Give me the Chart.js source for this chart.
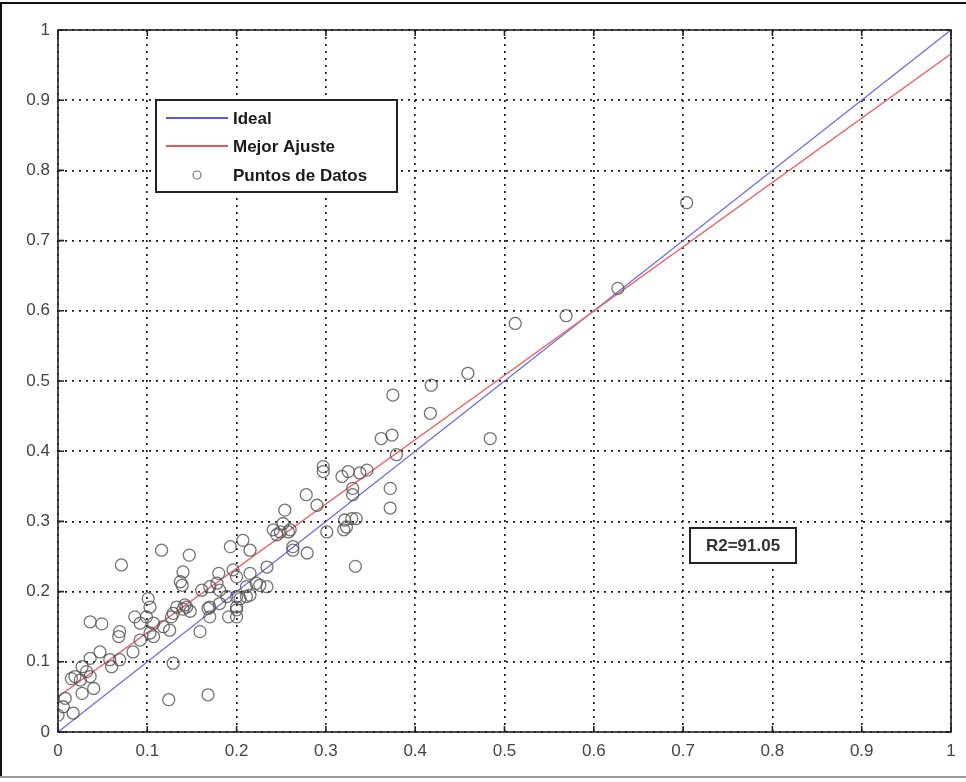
<!DOCTYPE html>
<html>
<head>
<meta charset="utf-8">
<script src="https://cdn.jsdelivr.net/npm/chart.js@4.4.1/dist/chart.umd.min.js"></script>
<style>
  html, body { margin: 0; padding: 0; background: #fff; }
  #wrap { width: 966px; height: 782px; }
</style>
</head>
<body>
<div id="wrap"><canvas id="grafico" width="966" height="782"></canvas></div>
<script>
/* ============================================================
   DATOS
============================================================ */
const TICKS_VAL = [0, 0.1, 0.2, 0.3, 0.4, 0.5, 0.6, 0.7, 0.8, 0.9, 1];
const TICKS_LBL = ['0', '0.1', '0.2', '0.3', '0.4', '0.5', '0.6', '0.7', '0.8', '0.9', '1'];

const IDEAL_X = [0, 1];
const IDEAL_Y = [0, 1];

const AJUSTE_X = [0, 1];
const AJUSTE_Y = [0.05, 0.966];

const PUNTOS_X = [
  0.704, 0.627, 0.569, 0.512, 0.459, 0.418, 0.417, 0.484, 0.375, 0.362,
  0.374, 0.379, 0.372, 0.372, 0.333, 0.297, 0.297, 0.318, 0.325, 0.338,
  0.346, 0.330, 0.330, 0.278, 0.290, 0.254, 0.321, 0.329, 0.334, 0.323,
  0.320, 0.301, 0.279, 0.263, 0.241, 0.249, 0.258, 0.245, 0.252, 0.260,
  0.207, 0.263, 0.234, 0.193, 0.215, 0.116, 0.147, 0.071, 0.140, 0.137,
  0.139, 0.180, 0.196, 0.200, 0.178, 0.181, 0.161, 0.170, 0.211, 0.222,
  0.234, 0.215, 0.226, 0.189, 0.200, 0.211, 0.204, 0.215, 0.170, 0.181,
  0.200, 0.191, 0.200, 0.200, 0.142, 0.144, 0.133, 0.129, 0.140, 0.148,
  0.101, 0.103, 0.099, 0.086, 0.092, 0.107, 0.170, 0.127, 0.036, 0.049,
  0.069, 0.068, 0.103, 0.107, 0.118, 0.125, 0.159, 0.168, 0.084, 0.092,
  0.047, 0.058, 0.060, 0.069, 0.036, 0.027, 0.032, 0.036, 0.015, 0.019,
  0.025, 0.040, 0.027, 0.008, 0.006, 0.000, 0.017, 0.124, 0.168, 0.129
];
const PUNTOS_Y = [
  0.754, 0.632, 0.593, 0.582, 0.511, 0.494, 0.454, 0.418, 0.480, 0.418,
  0.423, 0.395, 0.347, 0.319, 0.236, 0.378, 0.371, 0.364, 0.371, 0.369,
  0.373, 0.347, 0.338, 0.338, 0.323, 0.316, 0.302, 0.304, 0.304, 0.292,
  0.288, 0.285, 0.255, 0.264, 0.288, 0.285, 0.285, 0.281, 0.297, 0.288,
  0.273, 0.259, 0.235, 0.264, 0.259, 0.259, 0.252, 0.238, 0.228, 0.214,
  0.209, 0.226, 0.231, 0.221, 0.212, 0.202, 0.202, 0.207, 0.207, 0.212,
  0.207, 0.226, 0.209, 0.193, 0.193, 0.193, 0.190, 0.195, 0.178, 0.183,
  0.178, 0.164, 0.164, 0.174, 0.181, 0.178, 0.178, 0.169, 0.175, 0.172,
  0.190, 0.178, 0.164, 0.164, 0.155, 0.155, 0.164, 0.164, 0.157, 0.154,
  0.143, 0.136, 0.141, 0.136, 0.150, 0.145, 0.143, 0.176, 0.114, 0.131,
  0.114, 0.103, 0.093, 0.103, 0.105, 0.093, 0.086, 0.079, 0.076, 0.079,
  0.074, 0.062, 0.055, 0.048, 0.036, 0.024, 0.027, 0.046, 0.053, 0.098
];

const R2_TEXTO = 'R2=91.05';

/* ============================================================
   PLUGINS
============================================================ */
const FUENTE = '"Liberation Sans", Arial, Helvetica, sans-serif';

const marcoPlugin = {
  id: 'marco',
  beforeDraw(chart) {
    const c = chart.ctx;
    c.save();
    c.fillStyle = '#fff';
    c.fillRect(0, 0, chart.width, chart.height);
    c.restore();
  },
  afterDraw(chart) {
    const c = chart.ctx;
    const a = chart.chartArea;
    const sx = chart.scales.x, sy = chart.scales.y;
    c.save();

    // borde exterior de la figura
    c.strokeStyle = '#111'; c.lineWidth = 2;
    c.beginPath(); c.moveTo(0, 3); c.lineTo(chart.width, 3); c.stroke();
    c.beginPath(); c.moveTo(1, 3); c.lineTo(1, 777); c.stroke();
    c.strokeStyle = '#999';
    c.beginPath(); c.moveTo(0, 777); c.lineTo(chart.width, 777); c.stroke();

    // caja de ejes
    c.strokeStyle = '#222'; c.lineWidth = 1.6; c.setLineDash([]);
    c.strokeRect(a.left, a.top, a.right - a.left, a.bottom - a.top);

    // marcas de ticks hacia adentro
    const L = 6;
    c.lineWidth = 1.6;
    TICKS_VAL.forEach(v => {
      const px = sx.getPixelForValue(v);
      const py = sy.getPixelForValue(v);
      c.beginPath();
      c.moveTo(px, a.bottom); c.lineTo(px, a.bottom - L);
      c.moveTo(px, a.top);    c.lineTo(px, a.top + L);
      c.moveTo(a.left, py);   c.lineTo(a.left + L, py);
      c.moveTo(a.right, py);  c.lineTo(a.right - L, py);
      c.stroke();
    });

    // leyenda
    const lx = 156, ly = 100, lw = 241, lh = 92;
    c.fillStyle = '#fff';
    c.fillRect(lx, ly, lw, lh);
    c.strokeStyle = '#222'; c.lineWidth = 2;
    c.strokeRect(lx, ly, lw, lh);
    const filas = [
      { y: 118, tipo: 'linea', color: '#5a5ae0', txt: 'Ideal' },
      { y: 146, tipo: 'linea', color: '#e05a5a', txt: 'Mejor Ajuste' },
      { y: 175, tipo: 'punto', color: '#777',    txt: 'Puntos de Datos' }
    ];
    c.font = 'bold 17px ' + FUENTE;
    c.textBaseline = 'middle';
    c.textAlign = 'left';
    filas.forEach(f => {
      if (f.tipo === 'linea') {
        c.strokeStyle = f.color; c.lineWidth = 2;
        c.beginPath(); c.moveTo(166, f.y); c.lineTo(228, f.y); c.stroke();
      } else {
        c.strokeStyle = f.color; c.lineWidth = 1.2;
        c.beginPath(); c.arc(197, f.y, 4, 0, Math.PI * 2); c.stroke();
      }
      c.fillStyle = '#1a1a1a';
      c.fillText(f.txt, 233, f.y + 1);
    });

    // caja R2
    const bx = 690, by = 528, bw = 106, bh = 35;
    c.fillStyle = '#fff';
    c.fillRect(bx, by, bw, bh);
    c.strokeStyle = '#222'; c.lineWidth = 2;
    c.strokeRect(bx, by, bw, bh);
    c.fillStyle = '#333';
    c.font = 'bold 17px ' + FUENTE;
    c.textAlign = 'center';
    c.fillText(R2_TEXTO, bx + bw / 2, by + bh / 2 + 1);

    c.restore();
  }
};

/* ============================================================
   GRÁFICO
============================================================ */
function ejeLineal(esX) {
  return {
    type: 'linear',
    min: 0, max: 1,
    afterBuildTicks: s => { s.ticks = TICKS_VAL.map(v => ({ value: v })); },
    afterFit: s => { if (esX) s.height = 50; else s.width = 58; },
    ticks: {
      autoSkip: false,
      maxRotation: 0,
      padding: esX ? 9 : 8,
      color: '#444',
      font: { family: FUENTE, size: 17 },
      callback: (v, i) => TICKS_LBL[i]
    },
    grid: { color: '#1a1a1a', lineWidth: 1.7, drawTicks: false, tickLength: 0 },
    border: { display: false, dash: [2, 5] }
  };
}

const ctx = document.getElementById('grafico').getContext('2d');
const miGrafico = new Chart(ctx, {
  data: {
    datasets: [
      {
        type: 'line', label: 'Ideal',
        data: IDEAL_X.map((x, i) => ({ x, y: IDEAL_Y[i] })),
        borderColor: '#6a6ae6', borderWidth: 1.3, pointRadius: 0, fill: false, order: 2
      },
      {
        type: 'line', label: 'Mejor Ajuste',
        data: AJUSTE_X.map((x, i) => ({ x, y: AJUSTE_Y[i] })),
        borderColor: '#e86a6a', borderWidth: 1.3, pointRadius: 0, fill: false, order: 1
      },
      {
        type: 'scatter', label: 'Puntos de Datos',
        data: PUNTOS_X.map((x, i) => ({ x, y: PUNTOS_Y[i] })),
        pointStyle: 'circle', pointRadius: 6,
        borderColor: 'rgba(80,80,80,.8)', borderWidth: 1.3,
        backgroundColor: 'rgba(0,0,0,0)', order: 0
      }
    ]
  },
  options: {
    responsive: false,
    animation: false,
    layout: { padding: { left: 0, top: 30, right: 15, bottom: 0 } },
    plugins: { legend: { display: false }, tooltip: { enabled: false } },
    scales: { x: ejeLineal(true), y: ejeLineal(false) }
  },
  plugins: [marcoPlugin]
});
</script>
</body>
</html>
